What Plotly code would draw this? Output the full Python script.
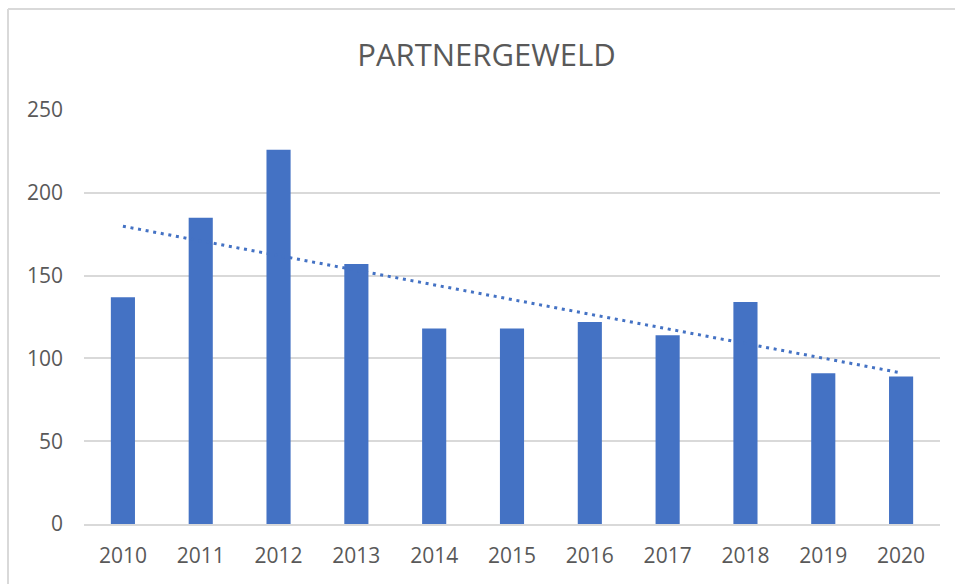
import numpy as np
import plotly.graph_objects as go

# Partner violence cases per year
years = ["2010", "2011", "2012", "2013", "2014", "2015", "2016", "2017", "2018", "2019", "2020"]
cases = [137, 185, 226, 157, 118, 118, 122, 114, 134, 91, 89]

# Linear trend fitted on the yearly values
idx = np.arange(len(years))
slope, intercept = np.polyfit(idx, cases, 1)
trend = slope * idx + intercept

BLUE = "#4472C4"
GREY_TEXT = "#595959"
GRID = "#D9D9D9"
FONT = "Open Sans"

W, H = 955, 584
ML, MR, MT, MB = 84, 15, 110, 60

fig = go.Figure()
fig.add_trace(go.Bar(
    x=years, y=cases,
    marker=dict(color=BLUE, line=dict(width=0)),
    hoverinfo="x+y", showlegend=False,
))
fig.add_trace(go.Scatter(
    x=years, y=trend, mode="lines",
    line=dict(color=BLUE, width=3, dash="3px,4.7px"),
    hoverinfo="skip", showlegend=False,
))

# chart frame (top and left edges)
pw, ph = W - ML - MR, H - MT - MB
fx = lambda px: (px - ML) / pw
fy = lambda py: (H - MB - py) / ph
fig.add_shape(type="line", xref="paper", yref="paper",
              x0=fx(8), x1=fx(W + 20), y0=fy(9), y1=fy(9),
              line=dict(color=GRID, width=2))
fig.add_shape(type="line", xref="paper", yref="paper",
              x0=fx(8), x1=fx(8), y0=fy(9), y1=fy(H + 20),
              line=dict(color=GRID, width=2))

fig.update_layout(
    width=W, height=H,
    margin=dict(l=ML, r=MR, t=MT, b=MB, pad=0),
    paper_bgcolor="white", plot_bgcolor="white",
    bargap=0.69,
    title=dict(text="PARTNERGEWELD", x=486.5 / W, xref="container",
               xanchor="center", y=1 - 55 / H, yanchor="middle",
               font=dict(family=FONT, size=31, color=GREY_TEXT)),
    font=dict(family=FONT, color=GREY_TEXT),
)
fig.update_xaxes(
    showgrid=False, showline=True, linecolor=GRID, linewidth=1.5,
    ticks="", tickfont=dict(family=FONT, size=21, color=GREY_TEXT),
    ticklabelstandoff=12, fixedrange=True,
)
fig.update_yaxes(
    range=[0, 250], dtick=50, tick0=0,
    showgrid=True, gridcolor=GRID, gridwidth=1.5,
    zeroline=False, showline=False, ticks="",
    tickfont=dict(family=FONT, size=21, color=GREY_TEXT),
    ticklabelstandoff=20, fixedrange=True,
)

fig.write_html("out.html")
